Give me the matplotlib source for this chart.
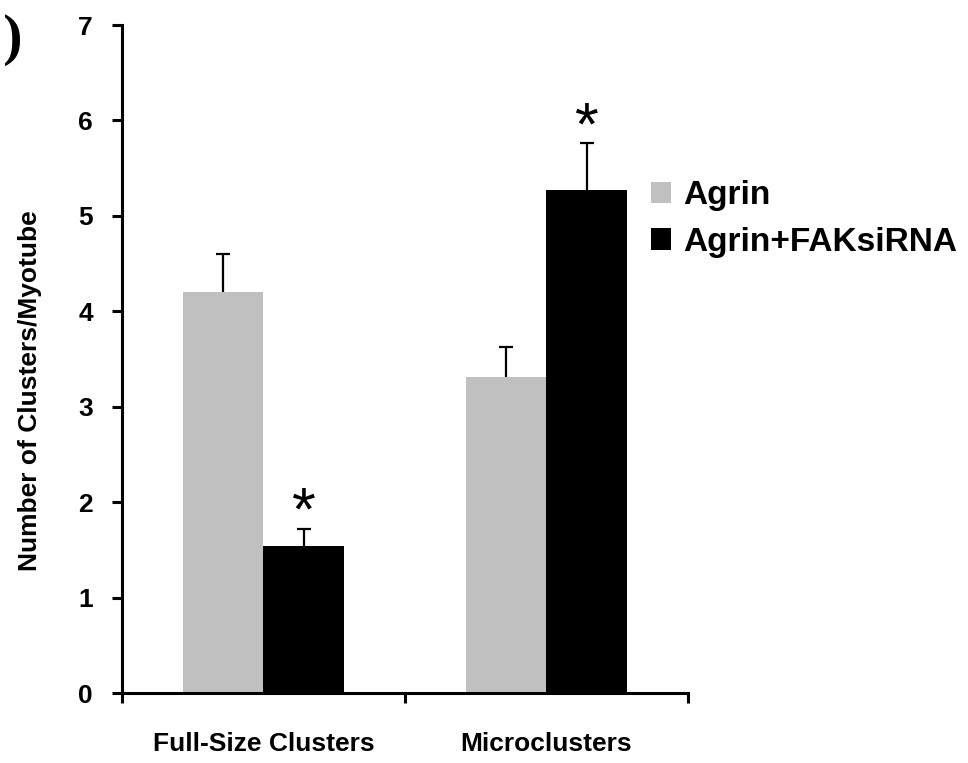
import matplotlib.pyplot as plt
import numpy as np

# Данные
groups = ['Full-Size Clusters', 'Microclusters']
agrin = [4.20, 3.31]
agrin_err = [0.40, 0.32]
fak = [1.54, 5.27]
fak_err = [0.18, 0.49]
series_names = ['Agrin', 'Agrin+FAKsiRNA']
significant = [True, True]   # звёздочки над Agrin+FAKsiRNA

plt.rcParams['font.family'] = ['Liberation Sans', 'DejaVu Sans']
plt.rcParams['font.weight'] = 'bold'

fig = plt.figure(figsize=(9.68, 7.63), dpi=100)
ax = fig.add_axes([0.126, 0.0917, 0.5847, 0.8755])

x = np.arange(len(groups))
w = 0.285
err_kw = dict(ecolor='black', elinewidth=1.6, capsize=5, capthick=1.6)
b1 = ax.bar(x - w / 2, agrin, w, color='#c0c0c0', label=series_names[0],
            yerr=[np.zeros(len(agrin)), agrin_err], error_kw=err_kw)
b2 = ax.bar(x + w / 2, fak, w, color='black', label=series_names[1],
            yerr=[np.zeros(len(fak)), fak_err], error_kw=err_kw)

# только верхние усы: убираем нижние засечки на вершине столбика
for bars, vals in [(b1, agrin), (b2, fak)]:
    for cl in bars.errorbar.lines[1]:
        if np.allclose(cl.get_ydata(), vals):
            cl.set_visible(False)

for i in range(len(groups)):
    if significant[i]:
        ax.annotate('*', (x[i] + w / 2, fak[i] + fak_err[i]), xytext=(0, -10),
                    textcoords='offset points', ha='center', va='bottom',
                    fontsize=44, fontweight='normal')

ax.set_xlim(-0.5, 1.5)
ax.set_ylim(0, 7)
ax.set_yticks(range(8))
ax.set_xticks([-0.5, 0.5, 1.5])
ax.set_xticklabels([])
ax.set_xticks(x, minor=True)
ax.set_xticklabels(groups, minor=True, fontsize=19)
ax.tick_params(axis='x', which='minor', length=0, pad=28)
ax.tick_params(axis='both', which='major', width=2.2, length=7, labelsize=19)
ax.tick_params(axis='y', pad=14)

for s in ['top', 'right']:
    ax.spines[s].set_visible(False)
for s in ['left', 'bottom']:
    ax.spines[s].set_linewidth(2.2)

ax.set_ylabel('Number of Clusters/Myotube', fontsize=19, fontweight='bold')
ax.yaxis.set_label_coords(-0.141, 0.452)

ax.legend(loc='upper left', bbox_to_anchor=(0.935, 0.768), frameon=False,
          fontsize=24, handlelength=0.6, handleheight=0.6, handletextpad=0.35,
          labelspacing=0.47, borderaxespad=0, borderpad=0)

fig.text(0.023, 0.982, 'C)', fontsize=42, fontweight='bold',
         family='Liberation Serif', ha='right', va='top')

fig.savefig('out.png', dpi=100)
